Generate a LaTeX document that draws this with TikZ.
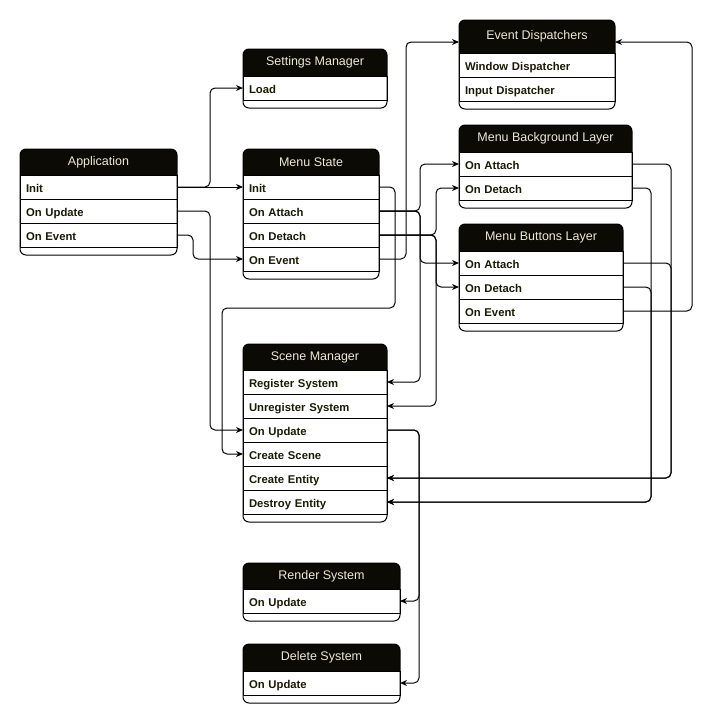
\documentclass[tikz,border=0pt]{standalone}
\usepackage{fontspec}
\setmainfont{Liberation Sans}
\usetikzlibrary{arrows.meta,backgrounds}
\definecolor{hdfill}{HTML}{0C0A04}
\definecolor{hdtext}{HTML}{EAEAD8}
\definecolor{rowtext}{HTML}{1A1A06}
\tikzset{
  hd/.style={text=hdtext,font=\fontsize{12.5}{14}\selectfont,inner sep=0pt,outer sep=0pt},
  rw/.style={draw,line width=1pt,text=rowtext,font=\bfseries\fontsize{11.3}{13}\selectfont,minimum height=24pt,inner xsep=6pt,inner ysep=0pt,outer sep=0pt,align=left,text height=10.5pt,text depth=0pt},
  boxframe/.style={draw,line width=1pt,rounded corners=6pt},
  conn/.style={draw,line width=1pt,rounded corners=5pt,-{Stealth[length=7pt,width=6pt]}}
}
\newcommand\umlbox[7]{%
  \node[hd,minimum width=#4,minimum height=#5,anchor=north west,alias=#1-0] (#1) at (#2,#3) {#6};
  \pgfmathsetmacro\rowtw{#4-12}
  \foreach \rowname [count=\i,remember=\i as \j (initially 0)] in {#7}{
    \node[rw,text width=\rowtw pt,anchor=north west] (#1-\i) at (#1-\j.south west) {\rowname};
    \xdef\lastrow{\i}}
  \coordinate (#1-end) at ([yshift=-8pt]#1-\lastrow.south east);
  \draw[boxframe] (#1.north west) rectangle (#1-end);
  \begin{pgfonlayer}{background}
    \begin{scope}
      \clip[rounded corners=6pt] (#1.north west) rectangle (#1-end);
      \fill[hdfill] (#1.north west) rectangle (#1.south east);
    \end{scope}
  \end{pgfonlayer}}

\begin{document}
\begin{tikzpicture}[x=1pt,y=-1pt]
\useasboundingbox (0,0) rectangle (720,721);
\umlbox{app}{20}{149}{157}{26}{Application}{Init,On Update,On Event}
\umlbox{set}{243}{49}{144}{27}{Settings Manager}{Load}
\umlbox{ms}{243}{149}{136}{26}{Menu State}{Init,On Attach,On Detach,On Event}
\umlbox{ev}{459}{20}{156}{33}{Event Dispatchers}{Window Dispatcher,Input Dispatcher}
\umlbox{bg}{459}{125}{173}{27}{Menu Background Layer}{On Attach,On Detach}
\umlbox{mb}{459}{224}{164}{27}{Menu Buttons Layer}{On Attach,On Detach,On Event}
\umlbox{sc}{243}{344}{144}{26}{Scene Manager}{Register System,Unregister System,On Update,Create Scene,Create Entity,Destroy Entity}
\umlbox{rs}{243}{563}{157}{26}{Render System}{On Update}
\umlbox{ds}{243}{644}{157}{27}{Delete System}{On Update}
\draw[conn] (app-1.east) -- (ms-1.west);
\draw[conn] (app-1.east) -- ++(33,0) |- (set-1.west);
\draw[conn] (app-2.east) -- ++(33,0) |- (sc-3.west);
\draw[conn] (app-3.east) -- ++(16,0) |- (ms-4.west);
\draw[conn] (ms-1.east) -| ++(16,121) -| ([xshift=-21pt]sc-4.west) -- (sc-4.west);
\draw[conn] (ms-4.east) -- ++(27,0) |- ([yshift=-5.5pt]ev.west);
\draw[conn] (mb-3.east) -- ++(69,0) |- ([yshift=-5.5pt]ev.east);
\foreach \d in {bg-1.west,mb-1.west,sc-1.east} \draw[conn] (ms-2.east) -- ++(41,0) |- (\d);
\foreach \d in {bg-2.west,mb-2.west,sc-2.east} \draw[conn] (ms-3.east) -- ++(57,0) |- (\d);
\draw[conn] (bg-1.east) -- ++(39,0) |- (sc-5.east);
\draw[conn] (mb-1.east) -- ++(48,0) |- (sc-5.east);
\draw[conn] (bg-2.east) -- ++(19,0) |- (sc-6.east);
\draw[conn] (mb-2.east) -- ++(28,0) |- (sc-6.east);
\foreach \d in {rs-1,ds-1} \draw[conn] (sc-3.east) -- ++(32,0) |- (\d.east);
\end{tikzpicture}
\end{document}
